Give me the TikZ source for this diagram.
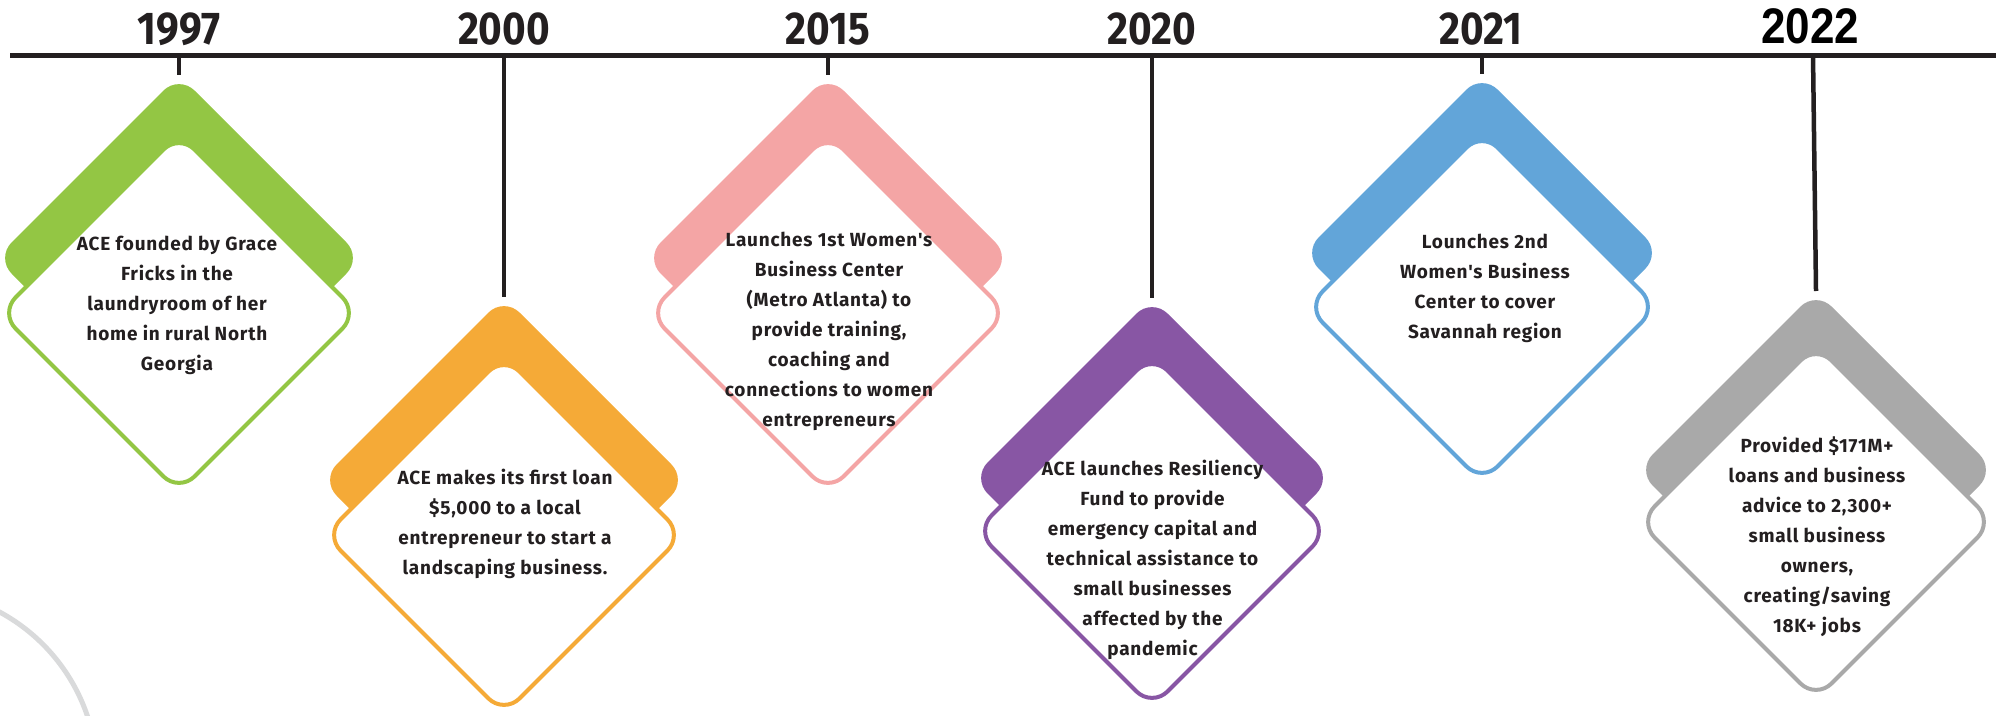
\documentclass[tikz,border=0pt]{standalone}
\usepackage{fontspec}
\usepackage{graphicx}
\setmainfont{Fira Sans}
\newfontfamily\notefont[LetterSpace=4]{Fira Sans}
\newfontfamily\arialfont{Liberation Sans}
\usetikzlibrary{shapes.geometric,backgrounds}

\definecolor{ink}{HTML}{231F20}
\definecolor{cgreen}{HTML}{93C644}
\definecolor{corange}{HTML}{F5AA37}
\definecolor{cpink}{HTML}{F4A5A5}
\definecolor{cpurple}{HTML}{8856A4}
\definecolor{cblue}{HTML}{62A5D9}
\definecolor{cgrey}{HTML}{A9A9A9}
\definecolor{ringgrey}{HTML}{D9DADB}

\tikzset{
  yearlabel/.style={font=\bfseries\fontsize{46}{46}\selectfont, text=ink, inner sep=0pt, anchor=base},
  lastyear/.style={font=\arialfont\bfseries\fontsize{50}{50}\selectfont, text=black, inner sep=0pt, anchor=base},
  band/.style={diamond, aspect=1, inner sep=0pt, outer sep=0pt, rounded corners=22pt, draw=none},
  card/.style={diamond, aspect=1, inner sep=0pt, outer sep=0pt, rounded corners=22pt, fill=white, line width=4pt},
  note/.style={align=center, text=ink, font=\notefont\bfseries\fontsize{19}{30}\selectfont, inner sep=0pt},
  rail/.style={line width=5pt, draw=ink},
  stem/.style={line width=4.5pt, draw=ink},
  ring/.style={line width=5pt, draw=ringgrey},
}

\begin{document}
\begin{tikzpicture}[x=1pt,y=-1pt]
\useasboundingbox (0,0) rectangle (1996,715);

% faint decorative ring in the lower left corner
\begin{scope}
  \clip (0,0) rectangle (1996,715);
  \draw[ring] (-88,775) circle[radius=185];
\end{scope}

% main timeline
\coordinate (railL) at (10,55);
\coordinate (railR) at (1996,55);
\draw[rail] (railL) -- (railR);

% ---- 1997 ----
\coordinate (r1997) at (179,55);
\node[yearlabel] (y1997) at (179,44) {\scalebox{0.88}[1]{1997}};
\node[band, fill=cgreen, minimum size=366pt] (b1997) at (179,258) {};
\node[card, draw=cgreen, minimum size=358pt] (c1997) at (179,313) {};
\node[note] (t1997) at (177,305.5) {ACE founded by Grace\\Fricks in the\\laundryroom of her\\home in rural North\\Georgia};

% ---- 2000 ----
\coordinate (r2000) at (504,55);
\node[yearlabel] (y2000) at (504,44) {\scalebox{0.88}[1]{2000}};
\node[band, fill=corange, minimum size=366pt] (b2000) at (504,480) {};
\node[card, draw=corange, minimum size=358pt] (c2000) at (504,535) {};
\node[note] (t2000) at (505,524) {ACE makes its first loan\\\$5,000 to a local\\entrepreneur to start a\\landscaping business.};

% ---- 2015 ----
\coordinate (r2015) at (828,55);
\node[yearlabel] (y2015) at (828,44) {\scalebox{0.88}[1]{2015}};
\node[band, fill=cpink, minimum size=366pt] (b2015) at (828,258) {};
\node[card, draw=cpink, minimum size=358pt] (c2015) at (828,313) {};
\node[note] (t2015) at (829,331) {Launches 1st Women's\\Business Center\\(Metro Atlanta) to\\provide training,\\coaching and\\connections to women\\entrepreneurs};

% ---- 2020 ----
\coordinate (r2020) at (1152,55);
\node[yearlabel] (y2020) at (1152,44) {\scalebox{0.88}[1]{2020}};
\node[band, fill=cpurple, minimum size=360pt] (b2020) at (1152,478) {};
\node[card, draw=cpurple, minimum size=352pt] (c2020) at (1152,531) {};
\node[note] (t2020) at (1152.5,559.5) {ACE launches Resiliency\\Fund to provide\\emergency capital and\\technical assistance to\\small businesses\\affected by the\\pandemic};

% ---- 2021 ----
\coordinate (r2021) at (1482,55);
\node[yearlabel] (y2021) at (1481,44) {\scalebox{0.88}[1]{2021}};
\node[band, fill=cblue, minimum size=358pt] (b2021) at (1482,253) {};
\node[card, draw=cblue, minimum size=350pt] (c2021) at (1482,307) {};
\node[note] (t2021) at (1485,288) {Lounches 2nd\\Women's Business\\Center to cover\\Savannah region};

% ---- 2022 ----
\coordinate (r2022) at (1813,55);
\node[lastyear] (y2022) at (1810,43) {\scalebox{0.88}[1]{2022}};
\node[band, fill=cgrey, minimum size=358pt] (b2022) at (1816,470) {};
\node[card, draw=cgrey, minimum size=354pt] (c2022) at (1816,522) {};
\node[note] (t2022) at (1817,536.5) {Provided \$171M+\\loans and business\\advice to 2,300+\\small business\\owners,\\creating/saving\\18K+ jobs};

% stems hanging each milestone from the timeline
\begin{scope}[on background layer]
  \draw[stem] (r1997) -- (b1997.north);
  \draw[stem] (r2000) -- (b2000.north);
  \draw[stem] (r2015) -- (b2015.north);
  \draw[stem] (r2020) -- (b2020.north);
  \draw[stem] (r2021) -- (b2021.north);
  \draw[stem] (r2022) -- (b2022.north);
\end{scope}
\end{tikzpicture}
\end{document}
